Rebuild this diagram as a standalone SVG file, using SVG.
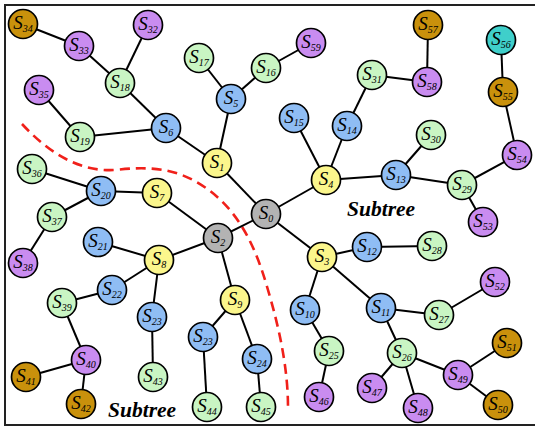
<svg xmlns="http://www.w3.org/2000/svg" width="535" height="429" viewBox="0 0 535 429">
<style>
.n{stroke:#000;stroke-width:1.7}
.y{fill:#fbf68c}.g{fill:#b3b3b3}.b{fill:#8fbdf4}.l{fill:#c9f5c3}.p{fill:#c98cf0}.o{fill:#c9910c}.c{fill:#3fcfca}
.t{font-family:"Liberation Serif",serif;font-style:italic;font-size:19px;text-anchor:middle;fill:#000}
.t tspan{font-size:10px}
#edges line{stroke:#000;stroke-width:2}
.st{font-family:"Liberation Serif",serif;font-style:italic;font-weight:bold;font-size:21.5px;fill:#000}
</style>
<rect x="5" y="5" width="560" height="420" fill="#fff" stroke="#222" stroke-width="2"/>
<path d="M22,124 C50,154 80,172 115,170 C150,166 178,168 206,188 C240,212 256,248 268,290 C281,334 288,372 288,408" fill="none" stroke="#f0201a" stroke-width="2.6" stroke-dasharray="10,6"/>
<g id="edges">
<line x1="23" y1="24" x2="79" y2="46"/>
<line x1="79" y1="46" x2="120" y2="83"/>
<line x1="148" y1="25" x2="120" y2="83"/>
<line x1="120" y1="83" x2="166" y2="128"/>
<line x1="39" y1="90" x2="80" y2="137"/>
<line x1="80" y1="137" x2="166" y2="128"/>
<line x1="166" y1="128" x2="217" y2="163"/>
<line x1="231" y1="99" x2="217" y2="163"/>
<line x1="199" y1="58" x2="231" y2="99"/>
<line x1="231" y1="99" x2="266" y2="68"/>
<line x1="266" y1="68" x2="311" y2="43"/>
<line x1="217" y1="163" x2="266" y2="214"/>
<line x1="266" y1="214" x2="326" y2="180"/>
<line x1="326" y1="180" x2="294" y2="118"/>
<line x1="326" y1="180" x2="347" y2="126"/>
<line x1="347" y1="126" x2="372" y2="75"/>
<line x1="372" y1="75" x2="427" y2="82"/>
<line x1="427" y1="82" x2="428" y2="25"/>
<line x1="326" y1="180" x2="396" y2="175"/>
<line x1="396" y1="175" x2="431" y2="135"/>
<line x1="396" y1="175" x2="462" y2="185"/>
<line x1="462" y1="185" x2="517" y2="155"/>
<line x1="517" y1="155" x2="503" y2="92"/>
<line x1="503" y1="92" x2="501" y2="40"/>
<line x1="462" y1="185" x2="483" y2="222"/>
<line x1="266" y1="214" x2="322" y2="257"/>
<line x1="322" y1="257" x2="367" y2="247"/>
<line x1="367" y1="247" x2="432" y2="246"/>
<line x1="322" y1="257" x2="305" y2="310"/>
<line x1="305" y1="310" x2="329" y2="351"/>
<line x1="329" y1="351" x2="319" y2="397"/>
<line x1="322" y1="257" x2="381" y2="308"/>
<line x1="381" y1="308" x2="439" y2="315"/>
<line x1="439" y1="315" x2="495" y2="282"/>
<line x1="381" y1="308" x2="402" y2="353"/>
<line x1="402" y1="353" x2="372" y2="388"/>
<line x1="402" y1="353" x2="418" y2="408"/>
<line x1="402" y1="353" x2="458" y2="375"/>
<line x1="458" y1="375" x2="507" y2="343"/>
<line x1="458" y1="375" x2="498" y2="405"/>
<line x1="266" y1="214" x2="218" y2="238"/>
<line x1="218" y1="238" x2="157" y2="193"/>
<line x1="157" y1="193" x2="101" y2="191"/>
<line x1="101" y1="191" x2="32" y2="169"/>
<line x1="101" y1="191" x2="52" y2="217"/>
<line x1="52" y1="217" x2="23" y2="263"/>
<line x1="218" y1="238" x2="159" y2="260"/>
<line x1="159" y1="260" x2="98" y2="242"/>
<line x1="159" y1="260" x2="112" y2="290"/>
<line x1="112" y1="290" x2="62" y2="303"/>
<line x1="62" y1="303" x2="86" y2="360"/>
<line x1="86" y1="360" x2="26" y2="377"/>
<line x1="86" y1="360" x2="81" y2="404"/>
<line x1="159" y1="260" x2="152" y2="317"/>
<line x1="152" y1="317" x2="153" y2="377"/>
<line x1="218" y1="238" x2="235" y2="300"/>
<line x1="235" y1="300" x2="203" y2="337"/>
<line x1="203" y1="337" x2="207" y2="407"/>
<line x1="235" y1="300" x2="257" y2="359"/>
<line x1="257" y1="359" x2="261" y2="407"/>
</g>
<g id="S0"><circle class="n g" cx="266" cy="214" r="14.5"/><text class="t" x="266" y="219">S<tspan dy="3">0</tspan></text></g>
<g id="S1"><circle class="n y" cx="217" cy="163" r="14.5"/><text class="t" x="217" y="168">S<tspan dy="3">1</tspan></text></g>
<g id="S2"><circle class="n g" cx="218" cy="238" r="14.5"/><text class="t" x="218" y="243">S<tspan dy="3">2</tspan></text></g>
<g id="S3"><circle class="n y" cx="322" cy="257" r="14.5"/><text class="t" x="322" y="262">S<tspan dy="3">3</tspan></text></g>
<g id="S4"><circle class="n y" cx="326" cy="180" r="14.5"/><text class="t" x="326" y="185">S<tspan dy="3">4</tspan></text></g>
<g id="S5"><circle class="n b" cx="231" cy="99" r="14.5"/><text class="t" x="231" y="104">S<tspan dy="3">5</tspan></text></g>
<g id="S6"><circle class="n b" cx="166" cy="128" r="14.5"/><text class="t" x="166" y="133">S<tspan dy="3">6</tspan></text></g>
<g id="S7"><circle class="n y" cx="157" cy="193" r="14.5"/><text class="t" x="157" y="198">S<tspan dy="3">7</tspan></text></g>
<g id="S8"><circle class="n y" cx="159" cy="260" r="14.5"/><text class="t" x="159" y="265">S<tspan dy="3">8</tspan></text></g>
<g id="S9"><circle class="n y" cx="235" cy="300" r="14.5"/><text class="t" x="235" y="305">S<tspan dy="3">9</tspan></text></g>
<g id="S10"><circle class="n b" cx="305" cy="310" r="14.5"/><text class="t" x="305" y="315">S<tspan dy="3">10</tspan></text></g>
<g id="S11"><circle class="n b" cx="381" cy="308" r="14.5"/><text class="t" x="381" y="313">S<tspan dy="3">11</tspan></text></g>
<g id="S12"><circle class="n b" cx="367" cy="247" r="14.5"/><text class="t" x="367" y="252">S<tspan dy="3">12</tspan></text></g>
<g id="S13"><circle class="n b" cx="396" cy="175" r="14.5"/><text class="t" x="396" y="180">S<tspan dy="3">13</tspan></text></g>
<g id="S14"><circle class="n b" cx="347" cy="126" r="14.5"/><text class="t" x="347" y="131">S<tspan dy="3">14</tspan></text></g>
<g id="S15"><circle class="n b" cx="294" cy="118" r="14.5"/><text class="t" x="294" y="123">S<tspan dy="3">15</tspan></text></g>
<g id="S16"><circle class="n l" cx="266" cy="68" r="14.5"/><text class="t" x="266" y="73">S<tspan dy="3">16</tspan></text></g>
<g id="S17"><circle class="n l" cx="199" cy="58" r="14.5"/><text class="t" x="199" y="63">S<tspan dy="3">17</tspan></text></g>
<g id="S18"><circle class="n l" cx="120" cy="83" r="14.5"/><text class="t" x="120" y="88">S<tspan dy="3">18</tspan></text></g>
<g id="S19"><circle class="n l" cx="80" cy="137" r="14.5"/><text class="t" x="80" y="142">S<tspan dy="3">19</tspan></text></g>
<g id="S20"><circle class="n b" cx="101" cy="191" r="14.5"/><text class="t" x="101" y="196">S<tspan dy="3">20</tspan></text></g>
<g id="S21"><circle class="n b" cx="98" cy="242" r="14.5"/><text class="t" x="98" y="247">S<tspan dy="3">21</tspan></text></g>
<g id="S22"><circle class="n b" cx="112" cy="290" r="14.5"/><text class="t" x="112" y="295">S<tspan dy="3">22</tspan></text></g>
<g id="S23a"><circle class="n b" cx="152" cy="317" r="14.5"/><text class="t" x="152" y="322">S<tspan dy="3">23</tspan></text></g>
<g id="S23b"><circle class="n b" cx="203" cy="337" r="14.5"/><text class="t" x="203" y="342">S<tspan dy="3">23</tspan></text></g>
<g id="S24"><circle class="n b" cx="257" cy="359" r="14.5"/><text class="t" x="257" y="364">S<tspan dy="3">24</tspan></text></g>
<g id="S25"><circle class="n l" cx="329" cy="351" r="14.5"/><text class="t" x="329" y="356">S<tspan dy="3">25</tspan></text></g>
<g id="S26"><circle class="n l" cx="402" cy="353" r="14.5"/><text class="t" x="402" y="358">S<tspan dy="3">26</tspan></text></g>
<g id="S27"><circle class="n l" cx="439" cy="315" r="14.5"/><text class="t" x="439" y="320">S<tspan dy="3">27</tspan></text></g>
<g id="S28"><circle class="n l" cx="432" cy="246" r="14.5"/><text class="t" x="432" y="251">S<tspan dy="3">28</tspan></text></g>
<g id="S29"><circle class="n l" cx="462" cy="185" r="14.5"/><text class="t" x="462" y="190">S<tspan dy="3">29</tspan></text></g>
<g id="S30"><circle class="n l" cx="431" cy="135" r="14.5"/><text class="t" x="431" y="140">S<tspan dy="3">30</tspan></text></g>
<g id="S31"><circle class="n l" cx="372" cy="75" r="14.5"/><text class="t" x="372" y="80">S<tspan dy="3">31</tspan></text></g>
<g id="S32"><circle class="n p" cx="148" cy="25" r="14.5"/><text class="t" x="148" y="30">S<tspan dy="3">32</tspan></text></g>
<g id="S33"><circle class="n p" cx="79" cy="46" r="14.5"/><text class="t" x="79" y="51">S<tspan dy="3">33</tspan></text></g>
<g id="S34"><circle class="n o" cx="23" cy="24" r="14.5"/><text class="t" x="23" y="29">S<tspan dy="3">34</tspan></text></g>
<g id="S35"><circle class="n p" cx="39" cy="90" r="14.5"/><text class="t" x="39" y="95">S<tspan dy="3">35</tspan></text></g>
<g id="S36"><circle class="n l" cx="32" cy="169" r="14.5"/><text class="t" x="32" y="174">S<tspan dy="3">36</tspan></text></g>
<g id="S37"><circle class="n l" cx="52" cy="217" r="14.5"/><text class="t" x="52" y="222">S<tspan dy="3">37</tspan></text></g>
<g id="S38"><circle class="n p" cx="23" cy="263" r="14.5"/><text class="t" x="23" y="268">S<tspan dy="3">38</tspan></text></g>
<g id="S39"><circle class="n l" cx="62" cy="303" r="14.5"/><text class="t" x="62" y="308">S<tspan dy="3">39</tspan></text></g>
<g id="S40"><circle class="n p" cx="86" cy="360" r="14.5"/><text class="t" x="86" y="365">S<tspan dy="3">40</tspan></text></g>
<g id="S41"><circle class="n o" cx="26" cy="377" r="14.5"/><text class="t" x="26" y="382">S<tspan dy="3">41</tspan></text></g>
<g id="S42"><circle class="n o" cx="81" cy="404" r="14.5"/><text class="t" x="81" y="409">S<tspan dy="3">42</tspan></text></g>
<g id="S43"><circle class="n l" cx="153" cy="377" r="14.5"/><text class="t" x="153" y="382">S<tspan dy="3">43</tspan></text></g>
<g id="S44"><circle class="n l" cx="207" cy="407" r="14.5"/><text class="t" x="207" y="412">S<tspan dy="3">44</tspan></text></g>
<g id="S45"><circle class="n l" cx="261" cy="407" r="14.5"/><text class="t" x="261" y="412">S<tspan dy="3">45</tspan></text></g>
<g id="S46"><circle class="n p" cx="319" cy="397" r="14.5"/><text class="t" x="319" y="402">S<tspan dy="3">46</tspan></text></g>
<g id="S47"><circle class="n p" cx="372" cy="388" r="14.5"/><text class="t" x="372" y="393">S<tspan dy="3">47</tspan></text></g>
<g id="S48"><circle class="n p" cx="418" cy="408" r="14.5"/><text class="t" x="418" y="413">S<tspan dy="3">48</tspan></text></g>
<g id="S49"><circle class="n p" cx="458" cy="375" r="14.5"/><text class="t" x="458" y="380">S<tspan dy="3">49</tspan></text></g>
<g id="S50"><circle class="n o" cx="498" cy="405" r="14.5"/><text class="t" x="498" y="410">S<tspan dy="3">50</tspan></text></g>
<g id="S51"><circle class="n o" cx="507" cy="343" r="14.5"/><text class="t" x="507" y="348">S<tspan dy="3">51</tspan></text></g>
<g id="S52"><circle class="n p" cx="495" cy="282" r="14.5"/><text class="t" x="495" y="287">S<tspan dy="3">52</tspan></text></g>
<g id="S53"><circle class="n p" cx="483" cy="222" r="14.5"/><text class="t" x="483" y="227">S<tspan dy="3">53</tspan></text></g>
<g id="S54"><circle class="n p" cx="517" cy="155" r="14.5"/><text class="t" x="517" y="160">S<tspan dy="3">54</tspan></text></g>
<g id="S55"><circle class="n o" cx="503" cy="92" r="14.5"/><text class="t" x="503" y="97">S<tspan dy="3">55</tspan></text></g>
<g id="S56"><circle class="n c" cx="501" cy="40" r="14.5"/><text class="t" x="501" y="45">S<tspan dy="3">56</tspan></text></g>
<g id="S57"><circle class="n o" cx="428" cy="25" r="14.5"/><text class="t" x="428" y="30">S<tspan dy="3">57</tspan></text></g>
<g id="S58"><circle class="n p" cx="427" cy="82" r="14.5"/><text class="t" x="427" y="87">S<tspan dy="3">58</tspan></text></g>
<g id="S59"><circle class="n p" cx="311" cy="43" r="14.5"/><text class="t" x="311" y="48">S<tspan dy="3">59</tspan></text></g>
<text class="st" x="347" y="216">Subtree</text>
<text class="st" x="108" y="417">Subtree</text>
</svg>
